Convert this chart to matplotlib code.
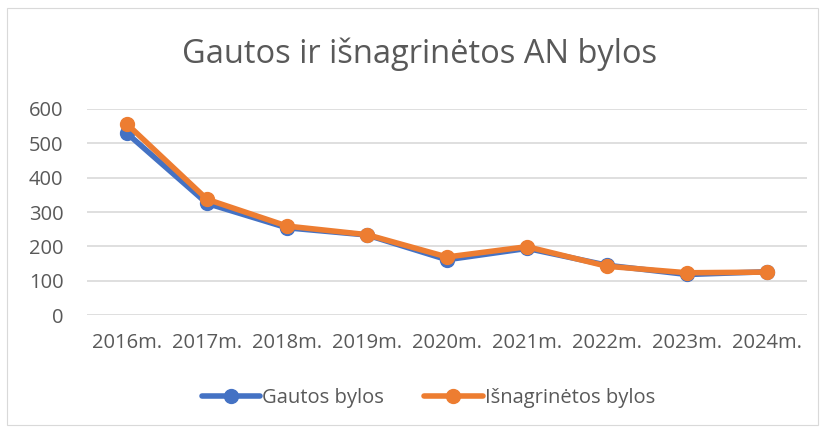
import matplotlib.pyplot as plt
from matplotlib.patches import Rectangle

years = ["2016m.", "2017m.", "2018m.", "2019m.", "2020m.", "2021m.", "2022m.", "2023m.", "2024m."]
gautos = [529, 325, 254, 233, 161, 194, 145, 118, 126]
isnagrinetos = [556, 337, 259, 234, 169, 199, 142, 123, 125]

plt.rcParams['font.family'] = ['Open Sans', 'DejaVu Sans']
grey = "#595959"

fig = plt.figure(figsize=(8.25, 4.32), dpi=100)
fig.patches.append(Rectangle((0.009, 0.016), 0.982, 0.965, transform=fig.transFigure,
                             fill=False, edgecolor="#d9d9d9", linewidth=0.8))
ax = fig.add_axes([0.1055, 0.2708, 0.8727, 0.4769])

x = range(len(years))
ax.plot(x, gautos, color="#4472C4", linewidth=4, marker="o", markersize=10,
        label="Gautos bylos", solid_capstyle="round")
ax.plot(x, isnagrinetos, color="#ED7D31", linewidth=4, marker="o", markersize=10,
        label="Išnagrinėtos bylos", solid_capstyle="round")

ax.set_xlim(-0.5, len(years) - 0.5)
ax.set_ylim(0, 600)
ax.set_yticks(range(0, 601, 100))
ax.set_xticks(list(x))
ax.set_xticklabels(years)
ax.grid(axis="y", color="#d9d9d9", linewidth=1.2)
ax.set_axisbelow(True)
for s in ax.spines.values():
    s.set_visible(False)
ax.tick_params(length=0, labelsize=14.5, labelcolor=grey)
ax.tick_params(axis="x", pad=13)
ax.tick_params(axis="y", pad=17)

fig.text(0.509, 0.875, "Gautos ir išnagrinėtos AN bylos", ha="center", va="center",
         fontsize=23.5, color=grey)
fig.legend(loc="center", bbox_to_anchor=(0.519, 0.079), ncol=2, frameon=False,
           fontsize=14.5, labelcolor=grey, handlelength=2.9, handletextpad=0.1,
           columnspacing=2.0)

fig.savefig("out.png", dpi=100)
